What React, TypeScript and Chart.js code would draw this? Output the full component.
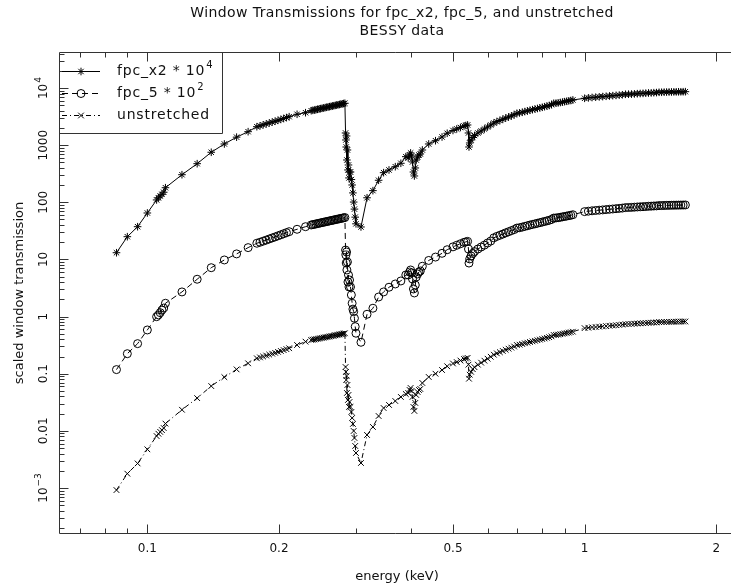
import { useEffect, useRef } from 'react';
import { Chart, registerables } from 'chart.js';

Chart.register(...registerables);

// Photon energies (keV), one array per scan segment
const energyLow = [0.085, 0.09, 0.095, 0.1, 0.105, 0.106, 0.107, 0.108, 0.109, 0.11, 0.12, 0.13, 0.14, 0.15, 0.16, 0.17];
const energyBelowC1 = [0.178, 0.181, 0.184, 0.187, 0.19, 0.193, 0.196, 0.199, 0.202, 0.205, 0.208, 0.211, 0.22, 0.23];
const energyBelowC2 = [0.237, 0.239, 0.241, 0.243, 0.245, 0.247, 0.249, 0.251, 0.253, 0.255, 0.257, 0.259, 0.261, 0.263, 0.265, 0.267, 0.269, 0.271, 0.273, 0.275, 0.277, 0.279, 0.281, 0.283];
const energyCEdge = [0.284, 0.2845, 0.285, 0.2855, 0.286, 0.2868, 0.2876, 0.2884, 0.2892, 0.29, 0.2915, 0.2928, 0.294, 0.2952, 0.2964, 0.2976, 0.2988, 0.3, 0.308];
const energyAboveC = [0.318, 0.328, 0.338, 0.347, 0.357, 0.369, 0.38, 0.39];
const energyNEdge = [0.395, 0.398, 0.4, 0.402, 0.404, 0.406, 0.408, 0.41, 0.412, 0.415, 0.418, 0.421];
const energyMid = [0.4255, 0.44, 0.456, 0.472, 0.485, 0.5, 0.51, 0.52, 0.53, 0.535, 0.54];
const energyOEdge = [0.5425, 0.544, 0.546, 0.55, 0.555, 0.56, 0.57, 0.58, 0.59, 0.6, 0.61];
const energyHigh1 = [0.62, 0.63, 0.64, 0.65, 0.66, 0.67, 0.68, 0.69, 0.7, 0.71, 0.72, 0.73, 0.74, 0.75, 0.76, 0.77, 0.78, 0.79, 0.8, 0.81, 0.82, 0.83, 0.84, 0.85, 0.86, 0.87, 0.88, 0.89, 0.9, 0.91, 0.92, 0.93, 0.94];
const energyHigh2 = [1.0, 1.02, 1.04, 1.06, 1.08, 1.1, 1.12, 1.14, 1.16, 1.18, 1.2, 1.22, 1.24, 1.26, 1.28, 1.3, 1.32, 1.34, 1.36, 1.38, 1.4, 1.42, 1.44, 1.46, 1.48, 1.5, 1.52, 1.54, 1.56, 1.58, 1.6, 1.62, 1.64, 1.66, 1.68, 1.7];

// fpc_x2 transmission, scaled by 10^4
const fpcX2Low = [13.1, 25.0, 37.4, 65.0, 110, 120, 129, 138, 150, 180, 304, 474, 751, 1049, 1380, 1722];
const fpcX2BelowC1 = [2105, 2180, 2270, 2350, 2440, 2530, 2620, 2720, 2820, 2930, 3040, 3150, 3470, 3700];
const fpcX2BelowC2 = [4010, 4070, 4120, 4180, 4240, 4300, 4360, 4420, 4480, 4540, 4600, 4660, 4720, 4780, 4840, 4900, 4970, 5030, 5090, 5150, 5220, 5280, 5350, 5410];
const fpcX2CEdge = [1634, 1232, 929, 1448, 550, 823, 368, 450, 267, 339, 339, 250, 201, 146, 101, 76, 55, 42, 37];
const fpcX2AboveC = [120, 160, 243, 330, 368, 420, 482, 629];
const fpcX2NEdge = [597, 673, 730, 646, 508, 339, 289, 399, 550, 621, 673, 701];
const fpcX2Mid = [823, 1049, 1197, 1390, 1614, 1807, 1919, 2038, 2166, 2210, 2255];
const fpcX2OEdge = [1634, 929, 1092, 1232, 1362, 1477, 1634, 1771, 1919, 2081, 2255];
const fpcX2High1 = [2440, 2580, 2700, 2840, 2980, 3110, 3250, 3400, 3610, 3660, 3760, 3870, 3970, 4080, 4180, 4280, 4390, 4490, 4600, 4710, 4830, 4950, 5110, 5410, 5430, 5490, 5580, 5670, 5770, 5860, 5960, 6050, 6180];
const fpcX2High2 = [6610, 6720, 6830, 6910, 7000, 7080, 7170, 7260, 7350, 7430, 7520, 7620, 7770, 7800, 7830, 7900, 7960, 8020, 8060, 8120, 8190, 8220, 8290, 8320, 8420, 8430, 8460, 8490, 8520, 8530, 8560, 8570, 8590, 8600, 8620, 8630];

// fpc_5 transmission, scaled by 10^2
const fpc5Low = [0.118, 0.224, 0.336, 0.583, 0.996, 1.07, 1.17, 1.3, 1.41, 1.71, 2.7, 4.5, 7.17, 9.79, 12.5, 16.1];
const fpc5BelowC1 = [19.2, 20.0, 20.9, 21.8, 22.8, 23.8, 24.8, 25.9, 27.0, 28.2, 29.4, 30.6, 33.7, 37.4];
const fpc5BelowC2 = [40.1, 40.7, 41.2, 41.8, 42.4, 43.0, 43.6, 44.2, 44.8, 45.4, 46.0, 46.6, 47.2, 47.8, 48.4, 49.0, 49.7, 50.3, 50.9, 51.5, 52.2, 52.8, 53.5, 54.1];
const fpc5CEdge = [14.6, 11.97, 8.67, 13.5, 6.54, 9.03, 4.03, 5.35, 3.3, 4.37, 3.3, 2.39, 1.71, 1.35, 1.22, 0.934, 0.666, 0.511, 0.355];
const fpc5AboveC = [1.097, 1.4, 2.2, 2.7, 3.26, 3.72, 4.2, 5.35];
const fpc5NEdge = [5.35, 6.03, 6.54, 5.8, 4.55, 3.04, 2.59, 3.57, 4.93, 5.57, 6.03, 6.28];
const fpc5Mid = [7.6, 9.6, 11.0, 12.8, 14.8, 16.6, 17.7, 18.8, 19.9, 20.3, 20.7];
const fpc5OEdge = [15.2, 8.64, 10.2, 11.5, 12.7, 13.7, 15.2, 16.5, 17.8, 19.4, 21.0];
const fpc5High1 = [23.9, 25.3, 26.5, 27.8, 29.2, 30.5, 31.9, 33.3, 35.4, 35.9, 36.8, 37.9, 38.9, 40.0, 41.0, 41.9, 43.0, 44.0, 45.1, 46.2, 47.3, 48.5, 50.1, 53.0, 53.2, 53.8, 54.7, 55.6, 56.5, 57.4, 58.4, 59.3, 60.6];
const fpc5High2 = [68.7, 69.9, 71.0, 71.9, 72.8, 73.6, 74.6, 75.5, 76.4, 77.3, 78.2, 79.2, 80.8, 81.1, 81.4, 82.2, 82.8, 83.4, 83.8, 84.4, 85.2, 85.5, 86.2, 86.5, 87.6, 87.7, 88.0, 88.3, 88.6, 88.7, 89.0, 89.1, 89.3, 89.4, 89.6, 89.8];

// unstretched window transmission, unscaled
const unstretchedLow = [0.00092, 0.00178, 0.00269, 0.00475, 0.0081, 0.0089, 0.0096, 0.0103, 0.0112, 0.0134, 0.0234, 0.0374, 0.0608, 0.0871, 0.119, 0.152];
const unstretchedBelowC1 = [0.186, 0.193, 0.2, 0.208, 0.216, 0.224, 0.232, 0.241, 0.25, 0.259, 0.269, 0.279, 0.318, 0.364];
const unstretchedBelowC2 = [0.389, 0.394, 0.398, 0.403, 0.408, 0.413, 0.418, 0.423, 0.428, 0.433, 0.438, 0.443, 0.448, 0.454, 0.459, 0.465, 0.47, 0.476, 0.481, 0.487, 0.493, 0.498, 0.504, 0.51];
const unstretchedCEdge = [0.131, 0.107, 0.0777, 0.0913, 0.046, 0.0635, 0.0347, 0.0425, 0.0262, 0.032, 0.0262, 0.0214, 0.0168, 0.0132, 0.00995, 0.00751, 0.00544, 0.0041, 0.00274];
const unstretchedAboveC = [0.00847, 0.0117, 0.0182, 0.0251, 0.0284, 0.0333, 0.0392, 0.0442];
const unstretchedNEdge = [0.046, 0.0519, 0.0563, 0.0499, 0.0392, 0.0262, 0.0223, 0.0308, 0.0425, 0.0479, 0.0519, 0.0541];
const unstretchedMid = [0.0689, 0.0877, 0.1, 0.116, 0.135, 0.151, 0.16, 0.17, 0.181, 0.185, 0.189];
const unstretchedOEdge = [0.144, 0.0818, 0.0961, 0.108, 0.12, 0.13, 0.144, 0.156, 0.169, 0.183, 0.198];
const unstretchedHigh1 = [0.215, 0.227, 0.238, 0.25, 0.262, 0.274, 0.286, 0.299, 0.318, 0.322, 0.331, 0.341, 0.349, 0.359, 0.368, 0.377, 0.386, 0.395, 0.405, 0.414, 0.425, 0.436, 0.45, 0.476, 0.478, 0.483, 0.491, 0.499, 0.508, 0.516, 0.524, 0.532, 0.544];
const unstretchedHigh2 = [0.628, 0.638, 0.649, 0.656, 0.665, 0.673, 0.681, 0.69, 0.698, 0.706, 0.714, 0.724, 0.738, 0.741, 0.744, 0.751, 0.756, 0.762, 0.766, 0.771, 0.778, 0.781, 0.788, 0.79, 0.8, 0.801, 0.804, 0.807, 0.809, 0.81, 0.813, 0.814, 0.816, 0.817, 0.819, 0.82];

const energyKeV = [
  ...energyLow, ...energyBelowC1, ...energyBelowC2, ...energyCEdge, ...energyAboveC,
  ...energyNEdge, ...energyMid, ...energyOEdge, ...energyHigh1, ...energyHigh2,
];
const fpcX2 = [
  ...fpcX2Low, ...fpcX2BelowC1, ...fpcX2BelowC2, ...fpcX2CEdge, ...fpcX2AboveC,
  ...fpcX2NEdge, ...fpcX2Mid, ...fpcX2OEdge, ...fpcX2High1, ...fpcX2High2,
];
const fpc5 = [
  ...fpc5Low, ...fpc5BelowC1, ...fpc5BelowC2, ...fpc5CEdge, ...fpc5AboveC,
  ...fpc5NEdge, ...fpc5Mid, ...fpc5OEdge, ...fpc5High1, ...fpc5High2,
];
const unstretched = [
  ...unstretchedLow, ...unstretchedBelowC1, ...unstretchedBelowC2, ...unstretchedCEdge, ...unstretchedAboveC,
  ...unstretchedNEdge, ...unstretchedMid, ...unstretchedOEdge, ...unstretchedHigh1, ...unstretchedHigh2,
];

const seriesLabels = ['fpc_x2 * 10^4', 'fpc_5 * 10^2', 'unstretched'];
const titleLines = ['Window Transmissions for fpc_x2, fpc_5, and unstretched', 'BESSY data'];
const xAxisTitle = 'energy (keV)';
const yAxisTitle = 'scaled window transmission';

// Axis ranges and tick labels
const X_MIN = 0.0628;
const X_MAX = 2.139;
const Y_MIN = 1.63e-4;
const Y_MAX = 4.27e4;
const xTickValues = [0.1, 0.2, 0.5, 1, 2];
const xTickLabels = ['0.1', '0.2', '0.5', '1', '2'];
const xMinorTicks = [0.07, 0.08, 0.09, 0.1, 0.2, 0.3, 0.4, 0.5, 0.6, 0.7, 0.8, 0.9, 1, 2];
const yTickValues = [1e-3, 1e-2, 0.1, 1, 10, 100, 1000, 1e4];
const yTickLabels = ['10^\u22123', '0.01', '0.1', '1', '10', '100', '1000', '10^4'];

const FONT = '"DejaVu Sans", sans-serif';
const INK = '#111';
const FRAME = '#333';

type Marker = 'star' | 'circle' | 'crossRot';
const markerKinds: Marker[] = ['star', 'circle', 'crossRot'];
const markerRadii = [3.8, 4, 4];
const dashPatterns: number[][] = [[], [6, 4], [5, 3, 1, 3]];

const zip = (ys: number[]) => energyKeV.map((x, i) => ({ x, y: ys[i] }));

function drawMarker(ctx: CanvasRenderingContext2D, kind: Marker, x: number, y: number, r: number) {
  ctx.beginPath();
  if (kind === 'circle') {
    ctx.arc(x, y, r, 0, Math.PI * 2);
  } else if (kind === 'crossRot') {
    const d = r * Math.SQRT1_2;
    ctx.moveTo(x - d, y - d); ctx.lineTo(x + d, y + d);
    ctx.moveTo(x - d, y + d); ctx.lineTo(x + d, y - d);
  } else {
    const d = r * Math.SQRT1_2;
    ctx.moveTo(x - r, y); ctx.lineTo(x + r, y);
    ctx.moveTo(x, y - r); ctx.lineTo(x, y + r);
    ctx.moveTo(x - d, y - d); ctx.lineTo(x + d, y + d);
    ctx.moveTo(x - d, y + d); ctx.lineTo(x + d, y - d);
  }
  ctx.stroke();
}

// Text with an optional superscript tail written as "base^sup"
function drawLabel(
  ctx: CanvasRenderingContext2D,
  label: string,
  x: number,
  y: number,
  size: number,
  align: 'left' | 'center',
  spacing = 0,
) {
  const [base, sup] = label.split('^');
  const supSize = Math.round(size * 0.72);
  const c = ctx as any;
  c.letterSpacing = `${spacing}px`;
  ctx.font = `${size}px ${FONT}`;
  const wb = ctx.measureText(base).width;
  let ws = 0;
  if (sup) {
    ctx.font = `${supSize}px ${FONT}`;
    ws = ctx.measureText(sup).width + 1;
  }
  const x0 = align === 'center' ? x - (wb + ws) / 2 : x;
  ctx.textAlign = 'left';
  ctx.textBaseline = 'middle';
  ctx.font = `${size}px ${FONT}`;
  ctx.fillText(base, x0, y);
  if (sup) {
    ctx.font = `${supSize}px ${FONT}`;
    ctx.fillText(sup, x0 + wb + 1, y - size * 0.42);
  }
  c.letterSpacing = '0px';
}

const framePlugin = {
  id: 'pgFrame',
  afterDraw(chart: Chart) {
    const { ctx, chartArea: a } = chart;
    const xs = chart.scales.x;
    const ys = chart.scales.y;
    const L = Math.round(a.left) + 0.5;
    const T = Math.round(a.top) + 0.5;
    const B = Math.round(a.bottom) + 0.5;
    const R = a.right + 2;
    ctx.save();
    ctx.strokeStyle = FRAME;
    ctx.lineWidth = 1;
    ctx.setLineDash([]);
    ctx.beginPath();
    ctx.moveTo(R, T); ctx.lineTo(L, T); ctx.lineTo(L, B); ctx.lineTo(R, B);
    ctx.stroke();

    // inward ticks on bottom and top
    ctx.beginPath();
    xMinorTicks.forEach((v) => {
      const px = Math.round(xs.getPixelForValue(v)) + 0.5;
      const major = xTickValues.includes(v);
      const len = major ? 9 : 5;
      ctx.moveTo(px, B); ctx.lineTo(px, B - len);
      ctx.moveTo(px, T); ctx.lineTo(px, T + len);
    });
    // inward ticks on the left axis
    for (let d = -4; d <= 4; d++) {
      for (let m = 1; m <= 9; m++) {
        const v = m * Math.pow(10, d);
        if (v < Y_MIN || v > Y_MAX) continue;
        const py = Math.round(ys.getPixelForValue(v)) + 0.5;
        const len = m === 1 ? 9 : 5;
        ctx.moveTo(L, py); ctx.lineTo(L + len, py);
      }
    }
    ctx.stroke();

    ctx.fillStyle = INK;
    // bottom tick labels
    xTickValues.forEach((v, i) => {
      drawLabel(ctx, xTickLabels[i], xs.getPixelForValue(v), 549, 12, 'center');
    });
    // left tick labels, rotated
    yTickValues.forEach((v, i) => {
      ctx.save();
      ctx.translate(44, ys.getPixelForValue(v));
      ctx.rotate(-Math.PI / 2);
      drawLabel(ctx, yTickLabels[i], 0, 0, 12, 'center');
      ctx.restore();
    });

    // titles
    drawLabel(ctx, titleLines[0], 402, 13, 14, 'center', 0.4);
    drawLabel(ctx, titleLines[1], 402, 31, 14, 'center', 0.4);
    drawLabel(ctx, xAxisTitle, 397, 577, 13, 'center');
    ctx.save();
    ctx.translate(20, 293);
    ctx.rotate(-Math.PI / 2);
    drawLabel(ctx, yAxisTitle, 0, 0, 13, 'center');
    ctx.restore();

    // legend box
    ctx.strokeStyle = FRAME;
    ctx.beginPath();
    ctx.moveTo(L, 133.5); ctx.lineTo(222.5, 133.5); ctx.lineTo(222.5, T);
    ctx.stroke();
    const rows = [71, 93, 115];
    seriesLabels.forEach((label, i) => {
      const y = rows[i] + 0.5;
      ctx.strokeStyle = '#000';
      ctx.setLineDash(dashPatterns[i]);
      ctx.beginPath();
      ctx.moveTo(62, y); ctx.lineTo(100, y);
      ctx.stroke();
      ctx.setLineDash([]);
      drawMarker(ctx, markerKinds[i], 81, y, markerRadii[i]);
      ctx.fillStyle = INK;
      drawLabel(ctx, label, 117, rows[i], 14, 'left', 0.8);
    });
    ctx.restore();
  },
};

export default function App() {
  const ref = useRef<HTMLCanvasElement>(null);

  useEffect(() => {
    const canvas = ref.current;
    if (!canvas) return;
    const series = [fpcX2, fpc5, unstretched];
    const chart = new Chart(canvas, {
      type: 'line',
      data: {
        datasets: series.map((ys, i) => ({
          label: seriesLabels[i],
          data: zip(ys),
          borderColor: '#000',
          borderWidth: 1,
          borderDash: dashPatterns[i],
          pointStyle: markerKinds[i],
          pointRadius: markerRadii[i],
          pointBorderWidth: 1,
          pointBorderColor: '#000',
          pointBackgroundColor: 'rgba(0,0,0,0)',
          tension: 0,
          fill: false,
        })),
      },
      options: {
        responsive: false,
        animation: false,
        devicePixelRatio: 1,
        events: [],
        layout: { padding: { left: 59, top: 52, right: 0, bottom: 51 } },
        plugins: { legend: { display: false }, tooltip: { enabled: false } },
        scales: {
          x: { type: 'logarithmic', min: X_MIN, max: X_MAX, bounds: 'data', display: false },
          y: { type: 'logarithmic', min: Y_MIN, max: Y_MAX, bounds: 'data', display: false },
        },
      },
      plugins: [framePlugin],
    });
    return () => chart.destroy();
  }, []);

  return (
    <div style={{ position: 'absolute', left: 0, top: 0, width: 734, height: 584, background: '#fff', overflow: 'hidden' }}>
      <canvas ref={ref} width={734} height={584} style={{ display: 'block', width: 734, height: 584 }} />
    </div>
  );
}
